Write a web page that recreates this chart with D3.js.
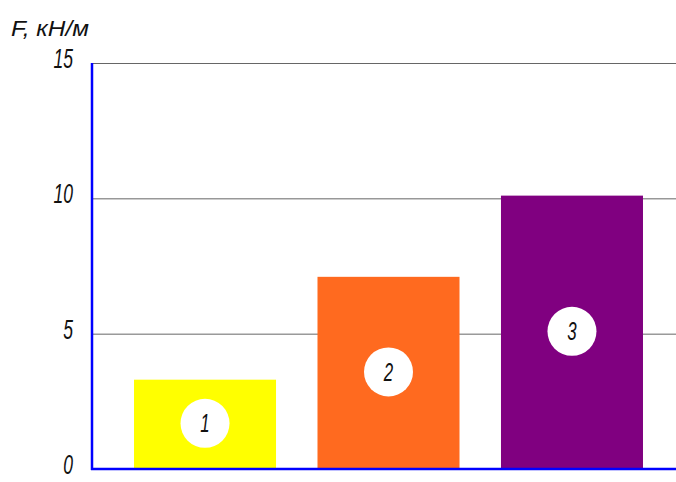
<!DOCTYPE html>
<html><head><meta charset="utf-8">
<script src="https://cdn.jsdelivr.net/npm/d3@7"></script>
<style>body{margin:0;background:#fff} svg{display:block}</style>
</head><body>
<svg id="chart" width="676" height="482"></svg>
<script>
// Load per unit length for three cases
const categories = ["1", "2", "3"];
const values = [3.3, 7.1, 10.1];
const colors = ["#FFFF00", "#FF6A1F", "#800080"];
const yTicks = [0, 5, 10, 15];
const yTitle = "F, кН/м";

const W = 676, H = 482;
const plotLeft = 92, plotBase = 469, plotTop = 63;
const font = "'Liberation Sans', Arial, sans-serif";

const svg = d3.select("#chart");

const y = d3.scaleLinear().domain([0, 15]).range([plotBase, plotTop]);
const x = d3.scaleBand().domain(categories).range([plotLeft, 685])
  .paddingInner(0.226).paddingOuter(0.229);

// horizontal grid lines
const grid = svg.append("g").attr("transform", `translate(${plotLeft},0)`)
  .call(d3.axisLeft(y).tickValues(yTicks).tickSize(-(W - plotLeft)).tickFormat(""));
grid.select(".domain").remove();
grid.selectAll(".tick line").attr("stroke", "#666").attr("stroke-width", 1);

// bars
svg.append("g").selectAll("rect").data(values).join("rect")
  .attr("x", (d, i) => x(categories[i]))
  .attr("width", x.bandwidth())
  .attr("y", d => y(d))
  .attr("height", d => y(0) - y(d))
  .attr("fill", (d, i) => colors[i]);

// numbered markers on the bars
const marks = svg.append("g").selectAll("g").data(values).join("g")
  .attr("transform", (d, i) => `translate(${x(categories[i]) + x.bandwidth() / 2},${y(d / 2) - 1})`);
marks.append("circle").attr("r", 24.5).attr("fill", "#fff");
marks.append("text")
  .attr("transform", "translate(0,9) scale(0.65,1)")
  .attr("text-anchor", "middle")
  .attr("font-family", font).attr("font-style", "italic")
  .attr("font-size", 26).attr("fill", "#111")
  .text((d, i) => categories[i]);

// axes
svg.append("line").attr("x1", plotLeft).attr("x2", plotLeft).attr("y1", y(15)).attr("y2", y(0) + 1)
  .attr("stroke", "#0000FF").attr("stroke-width", 2.5);
svg.append("line").attr("x1", plotLeft - 1).attr("x2", W).attr("y1", y(0)).attr("y2", y(0))
  .attr("stroke", "#0000FF").attr("stroke-width", 2.5);

// tick labels
svg.append("g").selectAll("text").data(yTicks).join("text")
  .attr("transform", d => `translate(73,${y(d) + 5}) scale(0.65,1)`)
  .attr("text-anchor", "end")
  .attr("font-family", font).attr("font-style", "italic")
  .attr("font-size", 27).attr("fill", "#111")
  .text(d => d);

// axis title
svg.append("text")
  .attr("x", 11).attr("y", 36)
  .attr("font-family", font).attr("font-style", "italic")
  .attr("font-size", 22).attr("fill", "#111")
  .attr("textLength", 78).attr("lengthAdjust", "spacingAndGlyphs")
  .text(yTitle);
</script>
</body></html>
